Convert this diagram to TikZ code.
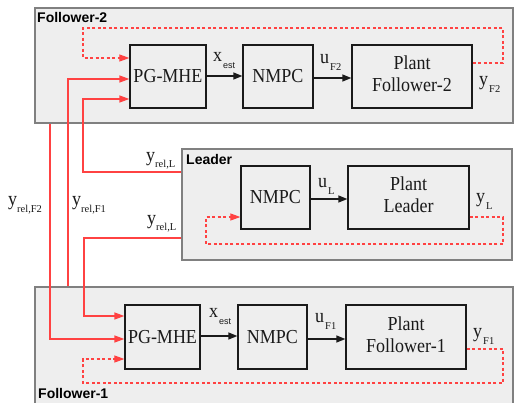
\documentclass[tikz,border=0pt]{standalone}
\usepackage{fontspec}
\setmainfont{Liberation Serif}
\newfontfamily\lsans{Liberation Sans}
\usetikzlibrary{arrows.meta,calc}
\definecolor{rd}{HTML}{FF4242}
\definecolor{bg}{HTML}{EEEEEE}
\definecolor{bd}{HTML}{808080}
\definecolor{ink}{HTML}{1A1A1A}
\newcommand{\vsc}[1]{\scalebox{1}[1.1]{#1}}
\newcommand{\mysub}[2][7]{\raisebox{-#1pt}{\fontsize{10.5}{10.5}\selectfont #2}}
\newcommand{\mysans}[1]{\raisebox{-7pt}{\lsans\fontsize{9}{9}\selectfont #1}}
\newcommand{\twol}[2]{\vsc{\begin{tabular}{@{}c@{}}#1\\#2\end{tabular}}}
\tikzset{
  cont/.style={draw=bd, fill=bg, line width=1.5pt, inner sep=0},
  blk/.style={draw=ink, fill=bg, line width=1.3pt, inner sep=0, minimum height=63pt,
    font=\fontsize{18}{20}\selectfont, text=ink, align=center},
  sig/.style={draw=ink, line width=1.3pt, -{Triangle[length=9pt,width=7pt]}},
  rsig/.style={draw=rd, line width=1.3pt, -{Triangle[length=10pt,width=7pt]}},
  fb/.style={rsig, line width=1.1pt, dash pattern=on 3pt off 2.5pt},
  lab/.style={inner sep=0, anchor=base west, text=ink, font=\fontsize{18}{18}\selectfont},
  ttl/.style={inner sep=0, anchor=base west, text=black, font=\lsans\bfseries\fontsize{14}{14}\selectfont}
}
\begin{document}
\begin{tikzpicture}[x=1pt,y=-1pt]
\useasboundingbox (0,0) rectangle (514,402);
\clip (0,0) rectangle (514,402);
\fill[white] (0,0) rectangle (514,402);

% containers
\node[cont, minimum width=478pt, minimum height=115pt] (f2box) at (274,65.5) {};
\node[cont, minimum width=330pt, minimum height=111pt] (ldbox) at (347,204.5) {};
\node[cont, minimum width=478pt, minimum height=123pt] (f1box) at (274,348.5) {};

\node[ttl] (t2) at (37,22.5) {Follower-2};
\node[ttl] (tl) at (186,164) {Leader};
\node[ttl] (t1) at (38,398) {Follower-1};

% blocks follower-2
\node[blk, minimum width=76pt] (mhe2) at (168,76.5) {\vsc{PG-MHE}};
\node[blk, minimum width=70pt] (nmpc2) at (278,76.5) {\vsc{NMPC}};
\node[blk, minimum width=120pt] (plant2) at (412,76.5) {\twol{Plant}{Follower-2}};
% blocks leader
\node[blk, minimum width=69pt] (nmpcL) at (275.5,197.5) {\vsc{NMPC}};
\node[blk, minimum width=121pt] (plantL) at (408.5,197.5) {\twol{Plant}{Leader}};
% blocks follower-1
\node[blk, minimum width=75pt, minimum height=64pt] (mhe1) at (162.5,337) {\vsc{PG-MHE}};
\node[blk, minimum width=69pt, minimum height=64pt] (nmpc1) at (272.5,337) {\vsc{NMPC}};
\node[blk, minimum width=120pt, minimum height=64pt] (plant1) at (406,337) {\twol{Plant}{Follower-1}};

% black signals
\draw[sig] (mhe2.east |- 0,76) -- (nmpc2.west |- 0,76);
\draw[sig] (nmpc2.east |- 0,78) -- (plant2.west |- 0,78);
\draw[sig] (nmpcL.east |- 0,199) -- (plantL.west |- 0,199);
\draw[sig] (mhe1.east |- 0,336) -- (nmpc1.west |- 0,336);
\draw[sig] (nmpc1.east |- 0,339) -- (plant1.west |- 0,339);

% dashed feedback
\draw[fb] (plant2.east |- 0,63) -- (503,63) -- (503,28) -- (83,28) -- (83,58) -- (mhe2.west |- 0,58);
\draw[fb] (plantL.east |- 0,217) -- (503,217) -- (503,244) -- (206,244) -- (206,217) -- (nmpcL.west |- 0,217);
\draw[fb] (plant1.east |- 0,349) -- (503,349) -- (503,383) -- (83,383) -- (83,359) -- (mhe1.west |- 0,359);

% red relative measurements
\draw[rsig] (68,0 |- f1box.north) -- (68,79) -- (mhe2.west |- 0,79);
\draw[rsig] (ldbox.west |- 0,172) -- (83,172) -- (83,99) -- (mhe2.west |- 0,99);
\draw[rsig] (50,0 |- f2box.south) -- (50,339) -- (mhe1.west |- 0,339);
\draw[rsig] (ldbox.west |- 0,238) -- (84,238) -- (84,316) -- (mhe1.west |- 0,316);

% labels
\node[lab] (lx2) at (213,61) {\vsc{x}\kern1pt\mysans{est}};
\node[lab] (lu2) at (320,63.3) {\vsc{u}\kern1pt\mysub{F2}};
\node[lab] (ly2) at (479,85) {\vsc{y}\kern1pt\mysub{F2}};
\node[lab] (lyl1) at (146,161) {\vsc{y}\mysub[6]{rel,L}};
\node[lab] (lyf2) at (8,205) {\vsc{y}\mysub{rel,F2}};
\node[lab] (lyf1) at (72,205) {\vsc{y}\mysub{rel,F1}};
\node[lab] (lyl2) at (147,224) {\vsc{y}\mysub[6]{rel,L}};
\node[lab] (luL) at (318,187) {\vsc{u}\kern1pt\mysub{L}};
\node[lab] (lyL) at (476,202) {\vsc{y}\kern1pt\mysub{L}};
\node[lab] (lx1) at (209,317) {\vsc{x}\kern1pt\mysans{est}};
\node[lab] (lu1) at (315,322) {\vsc{u}\kern1pt\mysub{F1}};
\node[lab] (ly1) at (473,337) {\vsc{y}\kern1pt\mysub{F1}};
\end{tikzpicture}
\end{document}
